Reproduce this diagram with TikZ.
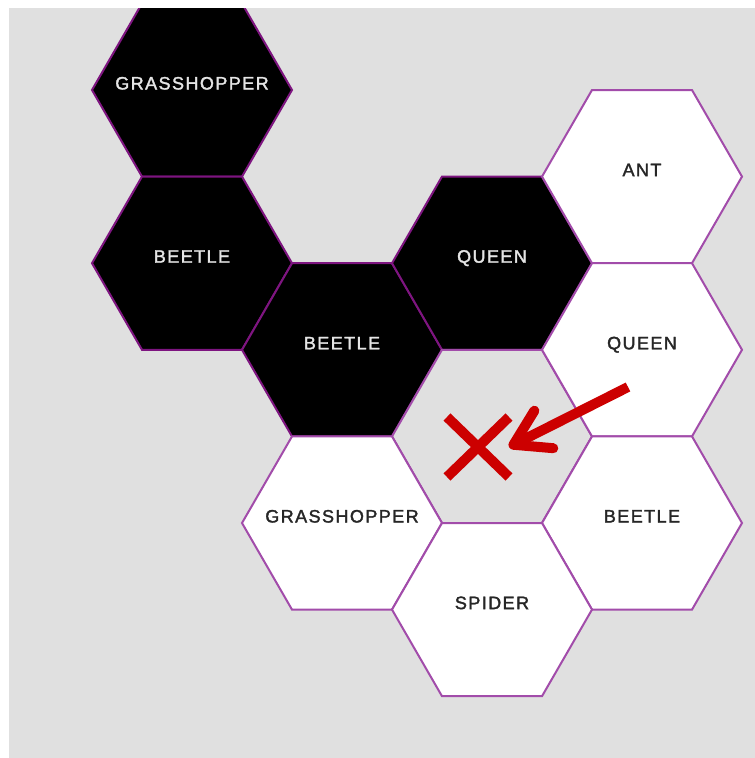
\documentclass[tikz,border=0pt]{standalone}
\usepackage{fontspec}
\newfontfamily\hexfont{Liberation Sans}[LetterSpace=8, FakeBold=1.8]
\usepackage{tikz}
\usetikzlibrary{arrows.meta,shapes.geometric,shapes.misc}
\definecolor{board}{HTML}{E0E0E0}
\definecolor{rim}{HTML}{A24CAA}
\definecolor{darkrim}{HTML}{7E1580}
\definecolor{markred}{HTML}{CC0000}

\begin{document}
\begin{tikzpicture}[x=1pt, y=-1pt,
  hex/.style={regular polygon, regular polygon sides=6, minimum size=200pt, inner sep=0pt, outer sep=0pt, line width=2pt, font=\hexfont\fontsize{18}{20}\selectfont, text height=12pt, text depth=13pt,
    execute at begin node={\hbox to 0pt\bgroup\hss}, execute at end node={\hss\egroup}},
  darkhex/.style={hex, draw=darkrim, fill=black, text=white!90!black},
  lighthex/.style={hex, draw=rim, fill=white, text=black!85},
  freehex/.style={hex, draw=rim, fill=board},
  cross/.style={cross out, draw=markred, line width=10pt, minimum width=62pt, minimum height=60pt, inner sep=0pt, outer sep=0pt},
  arr/.style={-{Straight Barb[length=34pt, width=42pt, round]}, line width=10pt, markred}]
  \useasboundingbox (0,0) rectangle (755,758);
  \fill[board] (9,8) rectangle (755,758);
  \begin{scope}
    \clip (9,8) rectangle (755,758);
    % black pieces
    \node[darkhex] (gh1) at (192,90) {GRASSHOPPER};
    \node[darkhex] (bt1) at (192,263.2) {BEETLE};
    \node[darkhex] (bt2) at (342,349.8) {BEETLE};
    \node[darkhex] (qn1) at (492,263.2) {QUEEN};
    % empty cell
    \node[freehex] (free) at (492,436.4) {};
    % white pieces
    \node[lighthex] (ant) at (642,176.6) {ANT};
    \node[lighthex] (qn2) at (642,349.8) {QUEEN};
    \node[lighthex] (gh2) at (342,523) {GRASSHOPPER};
    \node[lighthex] (bt3) at (642,523) {BEETLE};
    \node[lighthex] (spd) at (492,609.6) {SPIDER};
  \end{scope}
  % blocked move
  \node[cross] (nogo) at (478,447) {};
  \coordinate (tail) at (628,387);
  \draw[arr] (tail) -- (nogo.east);
\end{tikzpicture}
\end{document}
